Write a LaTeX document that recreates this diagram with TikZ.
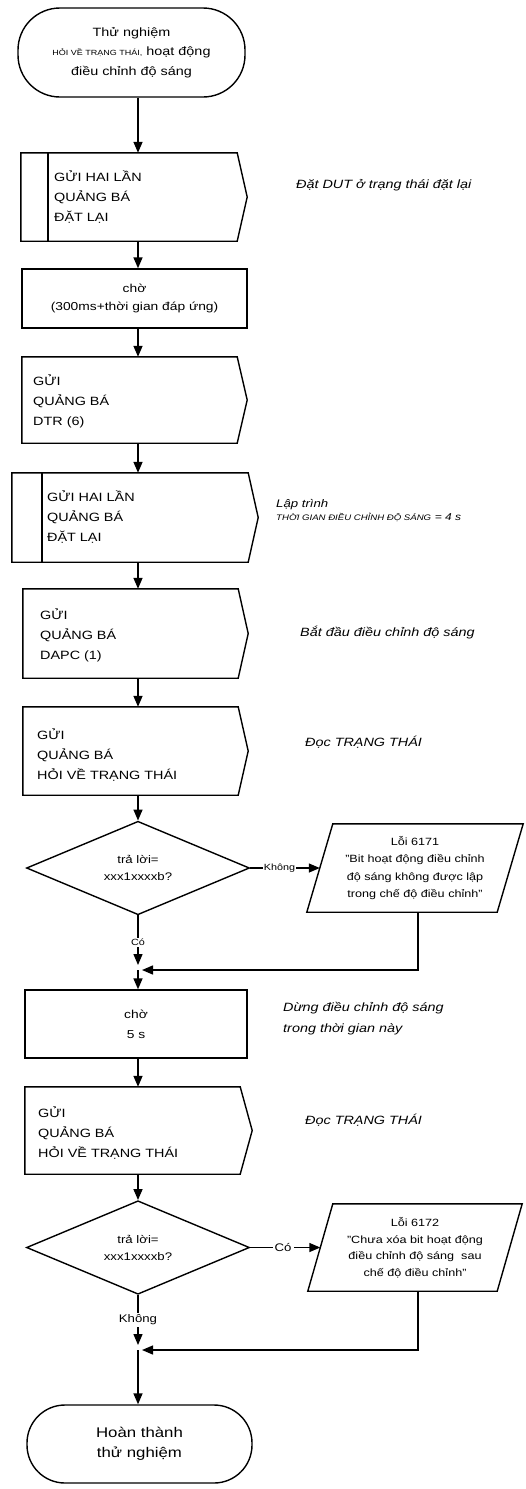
\documentclass[tikz,border=0pt]{standalone}
\usepackage{fontspec}
\setmainfont{Liberation Sans}[FakeStretch=1.2]
\usetikzlibrary{arrows.meta,shapes.geometric,calc}
\newcommand{\myfs}[2]{\fontsize{#1}{#2}\selectfont}
\begin{document}
\begin{tikzpicture}[x=1pt,y=-1pt,
  shapeline/.style={line width=1.4pt, draw=black, line join=miter},
  arr/.style={line width=1.4pt, draw=black, -{Triangle[width=9pt,length=11pt]}},
  area/.style={inner sep=0pt, draw=none},
  btext/.style={inner sep=0pt, align=left, font=\myfs{12}{20}},
  note/.style={inner sep=0pt, align=left, font=\itshape\myfs{12}{21}},
  lbl/.style={fill=white, inner sep=1pt, font=\myfs{9}{11}},
  lbltwo/.style={fill=white, inner sep=2pt, font=\myfs{11}{13}},
  term/.style={shapeline, inner sep=0pt, align=center},
  dec/.style={diamond, shapeline, inner sep=0pt, align=center, font=\myfs{11}{17}},
  para/.style={inner sep=0pt, align=center, font=\myfs{10.5}{17.5}}
]
\fill[white] (0,0) rectangle (525,1489);
\useasboundingbox (0,0) rectangle (525,1489);
\coordinate (ax) at (138,0);

% start terminal
\node[term, rounded corners=42pt, minimum width=227pt, minimum height=89pt,
      font=\myfs{12}{19.5}] (start) at (131.5,52.5)
  {Thử nghiệm\\{\myfs{7.5}{8}HỎI VỀ TRẠNG THÁI,} hoạt động\\điều chỉnh độ sáng};

% B1 send twice
\node[area, minimum width=226pt, minimum height=88pt] (b1) at (134,197) {};
\draw[shapeline] (b1.north west) -- ([xshift=-10pt]b1.north east) -- (b1.east)
  -- ([xshift=-10pt]b1.south east) -- (b1.south west) -- cycle;
\draw[shapeline] ([xshift=27pt]b1.north west) -- ([xshift=27pt]b1.south west);
\node[btext, anchor=west] (b1t) at (54,197) {GỬI HAI LẦN\\QUẢNG BÁ\\ĐẶT LẠI};
\node[note, anchor=west] (n1) at (296,185) {Đặt DUT ở trạng thái đặt lại};

% B2 wait
\node[shapeline, inner sep=0pt, minimum width=225pt, minimum height=59pt,
      align=center, font=\myfs{11.5}{18}] (b2) at (134.5,298.5)
  {chờ\\(300ms+thời gian đáp ứng)};

% B3
\node[area, minimum width=225pt, minimum height=86pt] (b3) at (134.5,400) {};
\draw[shapeline] (b3.north west) -- ([xshift=-10pt]b3.north east) -- (b3.east)
  -- ([xshift=-10pt]b3.south east) -- (b3.south west) -- cycle;
\node[btext, anchor=west] (b3t) at (33,401) {GỬI\\QUẢNG BÁ\\DTR (6)};

% B4 send twice
\node[area, minimum width=246pt, minimum height=89pt] (b4) at (135,517.5) {};
\draw[shapeline] (b4.north west) -- ([xshift=-10pt]b4.north east) -- (b4.east)
  -- ([xshift=-10pt]b4.south east) -- (b4.south west) -- cycle;
\draw[shapeline] ([xshift=30pt]b4.north west) -- ([xshift=30pt]b4.south west);
\node[btext, anchor=west] (b4t) at (47,517) {GỬI HAI LẦN\\QUẢNG BÁ\\ĐẶT LẠI};
\node[note, anchor=west, font=\itshape\myfs{11}{13}] (n4) at (276,511)
  {Lập trình\\{\myfs{8}{9}THỜI GIAN ĐIỀU CHỈNH ĐỘ SÁNG} {\myfs{10}{12}= 4 s}};

% B5
\node[area, minimum width=225pt, minimum height=89pt] (b5) at (135.5,633.5) {};
\draw[shapeline] (b5.north west) -- ([xshift=-10pt]b5.north east) -- (b5.east)
  -- ([xshift=-10pt]b5.south east) -- (b5.south west) -- cycle;
\node[btext, anchor=west] (b5t) at (40,635) {GỬI\\QUẢNG BÁ\\DAPC (1)};
\node[note, anchor=west] (n5) at (300,633) {Bắt đầu điều chỉnh độ sáng};

% B6
\node[area, minimum width=225pt, minimum height=88pt] (b6) at (135.5,751) {};
\draw[shapeline] (b6.north west) -- ([xshift=-10pt]b6.north east) -- (b6.east)
  -- ([xshift=-10pt]b6.south east) -- (b6.south west) -- cycle;
\node[btext, anchor=west] (b6t) at (37,755) {GỬI\\QUẢNG BÁ\\HỎI VỀ TRẠNG THÁI};
\node[note, anchor=west] (n6) at (305,742) {Đọc TRẠNG THÁI};

% D1
\node[dec, minimum width=223pt, minimum height=88pt] (d1) at (138,868)
  {trả lời=\\xxx1xxxxb?};

% P1
\node[para, minimum width=216pt, minimum height=88pt] (p1) at (415,868)
  {Lỗi 6171\\"Bit hoạt động điều chỉnh\\độ sáng không được lập\\trong chế độ điều chỉnh"};
\draw[shapeline] ([xshift=26pt]p1.north west) -- (p1.north east)
  -- ([xshift=-26pt]p1.south east) -- (p1.south west) -- cycle;

\coordinate (j1) at (138,970);

% B7 wait
\node[shapeline, inner sep=0pt, minimum width=222pt, minimum height=68pt,
      align=center, font=\myfs{11.5}{20}] (b7) at (136,1024) {chờ\\5 s};
\node[note, anchor=west] (n7) at (283,1019) {Dừng điều chỉnh độ sáng\\trong thời gian này};

% B8
\node[area, minimum width=227pt, minimum height=87pt] (b8) at (138.5,1130.5) {};
\draw[shapeline] (b8.north west) -- ([xshift=-12pt]b8.north east) -- (b8.east)
  -- ([xshift=-12pt]b8.south east) -- (b8.south west) -- cycle;
\node[btext, anchor=west] (b8t) at (38,1133) {GỬI\\QUẢNG BÁ\\HỎI VỀ TRẠNG THÁI};
\node[note, anchor=west] (n8) at (305,1120) {Đọc TRẠNG THÁI};

% D2
\node[dec, minimum width=223pt, minimum height=85pt] (d2) at (138,1247.5)
  {trả lời=\\xxx1xxxxb?};

% P2
\node[para, minimum width=214pt, minimum height=87pt, font=\myfs{10.5}{16.5}] (p2) at (415,1247.5)
  {Lỗi 6172\\"Chưa xóa bit hoạt động\\điều chỉnh độ sáng\ \ sau\\chế độ điều chỉnh"};
\draw[shapeline] ([xshift=25pt]p2.north west) -- (p2.north east)
  -- ([xshift=-25pt]p2.south east) -- (p2.south west) -- cycle;

\coordinate (j2) at (138,1350);

% end terminal
\node[term, rounded corners=38pt, minimum width=225pt, minimum height=78pt,
      font=\myfs{14}{20}] (end) at (139.5,1444) {Hoàn thành\\thử nghiệm};

% connectors
\draw[arr] (start.south -| ax) -- (b1.north -| ax);
\draw[arr] (b1.south -| ax) -- (b2.north -| ax);
\draw[arr] (b2.south -| ax) -- (b3.north -| ax);
\draw[arr] (b3.south -| ax) -- (b4.north -| ax);
\draw[arr] (b4.south -| ax) -- (b5.north -| ax);
\draw[arr] (b5.south -| ax) -- (b6.north -| ax);
\draw[arr] (b6.south -| ax) -- (d1.north);
\draw[arr] (d1.east) -- ([xshift=13pt]p1.west) node[lbl, pos=0.42] (l1) {Không};
\draw[arr] (d1.south) -- ([yshift=5pt]j1) node[lbl, pos=0.55] (l2) {Có};
\draw[arr] ([xshift=3pt]p1.south) |- ([xshift=4pt]j1);
\draw[arr] (j1) -- (b7.north -| ax);
\draw[arr] (b7.south -| ax) -- (b8.north -| ax);
\draw[arr] (b8.south -| ax) -- (d2.north);
\draw[arr] (d2.east) -- ([xshift=12.5pt]p2.west) node[lbltwo, pos=0.47] (l3) {Có};
\draw[arr] (d2.south) -- ([yshift=5pt]j2) node[lbltwo, pos=0.5] (l4) {Không};
\draw[arr] ([xshift=3pt]p2.south) |- ([xshift=4pt]j2);
\draw[arr] (j2) -- (end.north -| ax);
\end{tikzpicture}
\end{document}
